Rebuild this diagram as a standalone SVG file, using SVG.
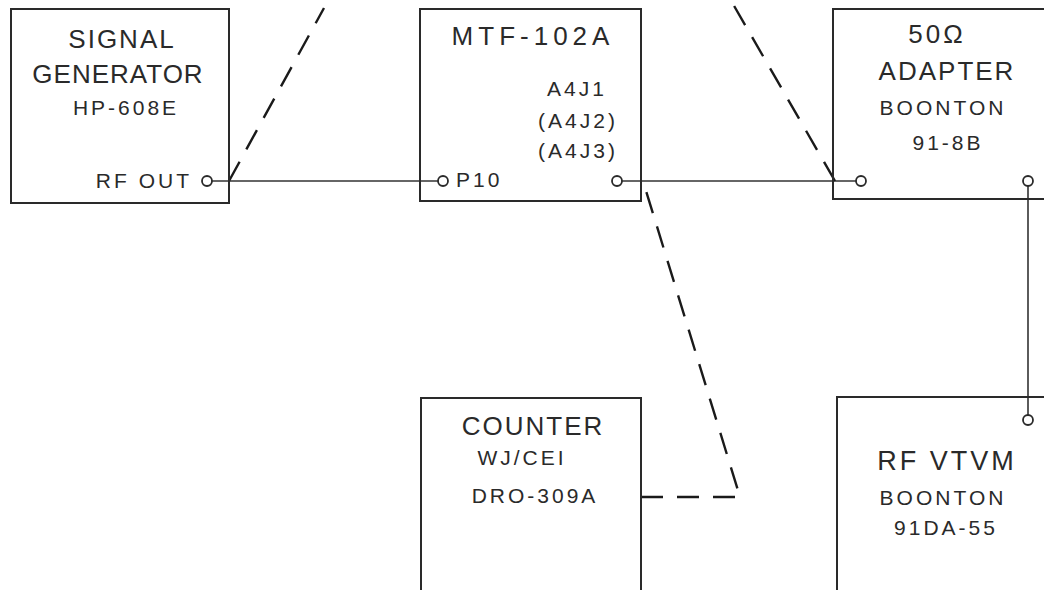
<svg xmlns="http://www.w3.org/2000/svg" width="1044" height="590" viewBox="0 0 1044 590">
<style>
.box{fill:none;stroke:#2a2a2a;stroke-width:2}
.t{font-family:"Liberation Sans",Arial,sans-serif;fill:#2a2a2a;text-anchor:middle}
.big{font-size:26px;letter-spacing:2px}
.sm{font-size:21px;letter-spacing:3px}
.wire{fill:none;stroke:#333;stroke-width:1.6}
.dash{fill:none;stroke:#1a1a1a;stroke-width:2.4;stroke-dasharray:22 14}
.port{fill:#fff;stroke:#2a2a2a;stroke-width:1.8}
</style>
<rect width="1044" height="590" fill="#fff"/>
<g id="connectors">
<line class="wire" x1="212" y1="181" x2="438" y2="181"/>
<line class="wire" x1="622" y1="181" x2="856" y2="181"/>
<line class="wire" x1="1028" y1="186" x2="1028" y2="415"/>
<line class="dash" x1="229" y1="181" x2="324" y2="8"/>
<line class="dash" x1="835" y1="181" x2="733" y2="4"/>
<polyline class="dash" points="641,497 740,497 643,181"/>
</g>
<g id="signal-generator">
<rect class="box" x="11" y="9" width="218" height="194"/>
<text class="t big" x="122" y="48">SIGNAL</text>
<text class="t big" x="118" y="83" style="letter-spacing:1px">GENERATOR</text>
<text class="t sm" x="126" y="115">HP-608E</text>
<text class="t sm" x="192" y="188" style="text-anchor:end">RF OUT</text>
<circle class="port" cx="207" cy="181" r="5"/>
</g>
<g id="mtf-102a">
<rect class="box" x="420" y="9" width="221" height="192"/>
<text class="t big" x="533" y="45" style="letter-spacing:5px">MTF-102A</text>
<text class="t sm" x="577" y="96">A4J1</text>
<text class="t sm" x="578" y="128">(A4J2)</text>
<text class="t sm" x="578" y="158">(A4J3)</text>
<text class="t sm" x="456" y="187" style="text-anchor:start">P10</text>
<circle class="port" cx="443" cy="181" r="5"/>
<circle class="port" cx="617" cy="181" r="5"/>
</g>
<g id="adapter">
<rect class="box" x="833" y="9" width="220" height="190"/>
<text class="t big" x="937" y="43" style="letter-spacing:3px">50Ω</text>
<text class="t big" x="947" y="80">ADAPTER</text>
<text class="t sm" x="943" y="115">BOONTON</text>
<text class="t sm" x="948" y="150">91-8B</text>
<circle class="port" cx="861" cy="181" r="5"/>
<circle class="port" cx="1028" cy="181" r="5"/>
</g>
<g id="counter">
<rect class="box" x="421" y="398" width="220" height="200"/>
<text class="t big" x="533" y="435">COUNTER</text>
<text class="t sm" x="522" y="465">WJ/CEI</text>
<text class="t sm" x="535" y="503">DRO-309A</text>
</g>
<g id="rf-vtvm">
<rect class="box" x="837" y="397" width="220" height="200"/>
<text class="t big" x="947" y="470" style="font-size:27px;letter-spacing:3px">RF VTVM</text>
<text class="t sm" x="943" y="505">BOONTON</text>
<text class="t sm" x="946" y="535">91DA-55</text>
<circle class="port" cx="1028" cy="420" r="5"/>
</g>
</svg>
